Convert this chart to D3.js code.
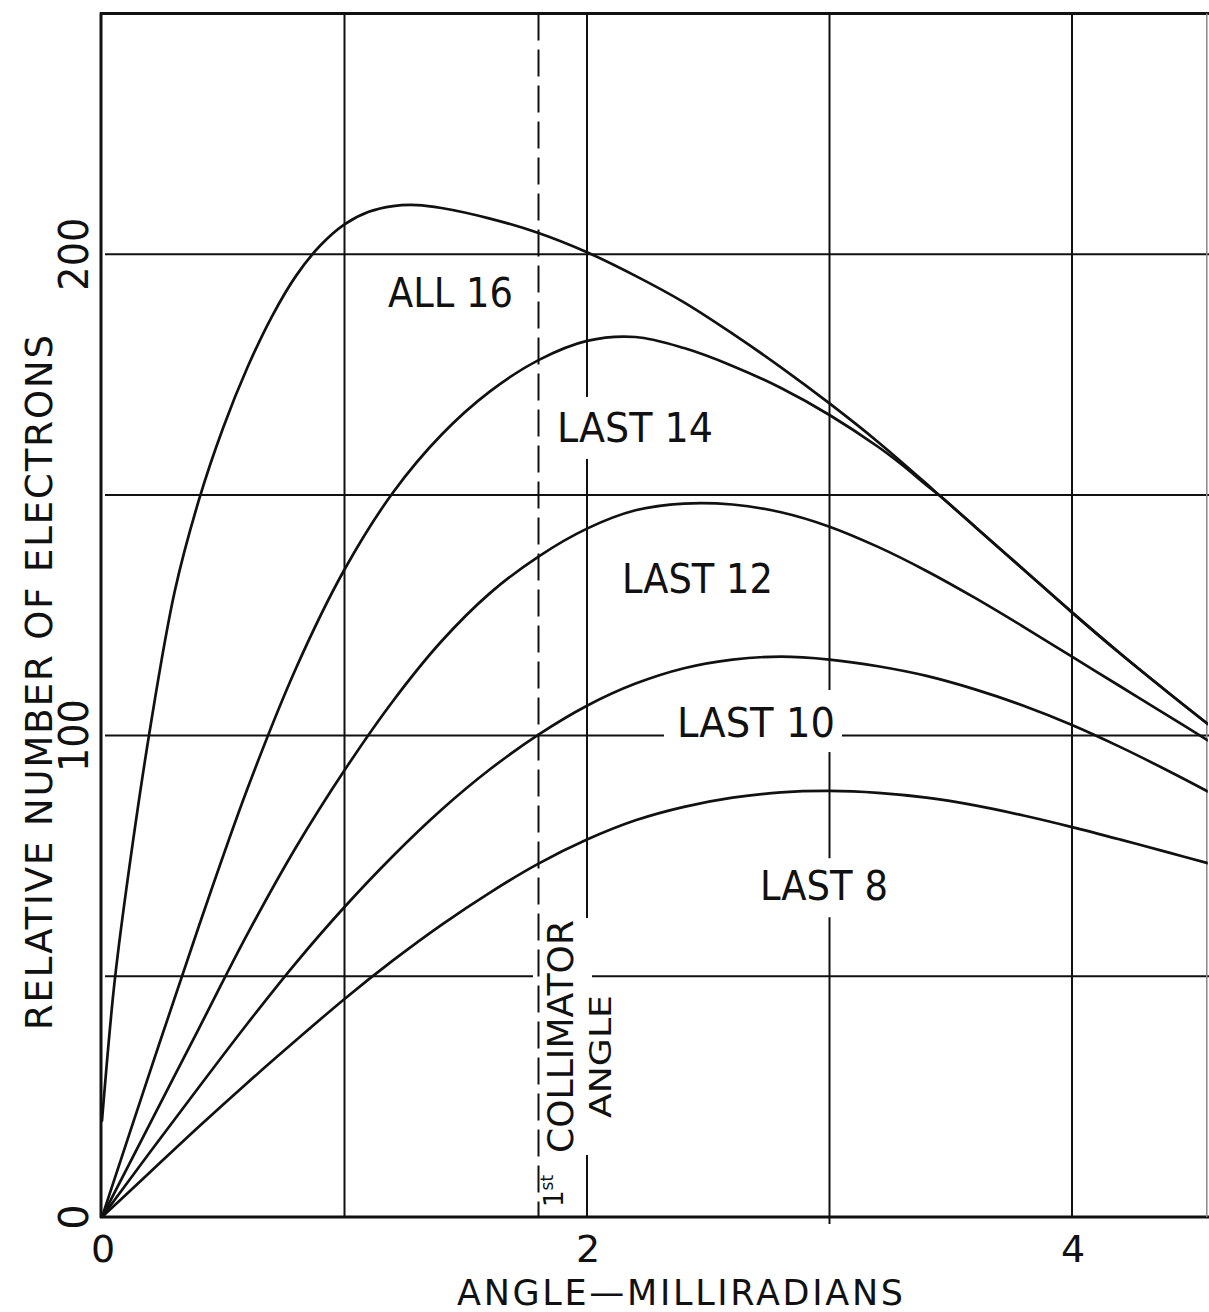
<!DOCTYPE html>
<html>
<head>
<meta charset="utf-8">
<script src="https://cdn.jsdelivr.net/npm/d3@7"></script>
<style>
  html, body { margin: 0; padding: 0; background: #fff; }
  svg { display: block; }
  text { font-family: "DejaVu Sans", "Liberation Sans", sans-serif; fill: #111; }
</style>
</head>
<body>
<svg id="chart" width="1209" height="1312"></svg>
<script>
// Relative number of electrons vs. scattering angle, for electrons
// produced in all 16 or only the last N accelerator sections.

const all16Angle = [0, 0.05, 0.1, 0.2, 0.3, 0.4, 0.5, 0.6, 0.7, 0.8, 0.9, 1.0, 1.1, 1.2, 1.3, 1.4, 1.6, 1.8, 2.0, 2.2, 2.4, 2.6, 2.8, 3.0, 3.2, 3.4, 3.46, 3.6, 3.8, 4.0, 4.2, 4.4, 4.56];
const all16Count = [20, 48, 68, 102, 130, 149, 164, 176.5, 187, 195.5, 201.8, 206.2, 208.8, 210, 210.2, 209.6, 207.4, 204.4, 200.4, 195.5, 190, 183.5, 176.5, 169, 161, 152.3, 149.6, 143.4, 134.5, 125.6, 117, 108.8, 102.4];

const last14Angle = [0, 0.2, 0.4, 0.6, 0.8, 1.0, 1.2, 1.4, 1.6, 1.8, 2.0, 2.2, 2.4, 2.6, 2.8, 3.0, 3.2, 3.3, 3.4, 3.46, 3.6, 3.8, 4.0, 4.2, 4.4, 4.56];
const last14Count = [0, 30.5, 60.5, 89, 114, 134.5, 150.5, 162.5, 171.5, 178, 182, 182.8, 180.5, 176.8, 172.2, 166.6, 160, 156.2, 152, 149.6, 143.4, 134.5, 125.6, 117, 108.8, 102.4];

const last12Angle = [0, 0.2, 0.4, 0.6, 0.8, 1.0, 1.2, 1.4, 1.6, 1.8, 2.0, 2.2, 2.4, 2.6, 2.8, 3.0, 3.2, 3.4, 3.6, 3.8, 4.0, 4.2, 4.4, 4.56];
const last12Count = [0, 19.6, 39.2, 58.8, 76.8, 92.8, 107.2, 119.6, 129.6, 137.2, 143, 146.8, 148.2, 148, 146.4, 143.4, 139.2, 134.2, 128.6, 122.6, 116.4, 110.2, 104, 99];

const last10Angle = [0, 0.2, 0.4, 0.6, 0.8, 1.0, 1.2, 1.4, 1.6, 1.8, 2.0, 2.2, 2.4, 2.6, 2.8, 3.0, 3.2, 3.4, 3.6, 3.8, 4.0, 4.2, 4.4, 4.56];
const last10Count = [0, 13.6, 27, 40.2, 52.8, 64.4, 75, 84.6, 93, 100.2, 106.2, 110.8, 114, 115.8, 116.4, 115.8, 114.4, 112.4, 109.6, 106.2, 102.2, 97.6, 92.6, 88.4];

const last8Angle = [0, 0.2, 0.4, 0.6, 0.8, 1.0, 1.2, 1.4, 1.6, 1.8, 2.0, 2.2, 2.4, 2.6, 2.8, 3.0, 3.2, 3.4, 3.6, 3.8, 4.0, 4.2, 4.4, 4.56];
const last8Count = [0, 9.4, 18.8, 27.9, 36.7, 45.3, 53.3, 60.7, 67.4, 73.4, 78.4, 82.4, 85.2, 87.1, 88.2, 88.5, 88.1, 87.1, 85.5, 83.4, 81.0, 78.4, 75.7, 73.5];

const seriesNames = ["ALL 16", "LAST 14", "LAST 12", "LAST 10", "LAST 8"];
const xTickValues = [0, 2, 4];
const xTickLabels = ["0", "2", "4"];
const yTickValues = [0, 100, 200];
const yTickLabels = ["0", "100", "200"];
const xGridValues = [1, 2, 3, 4];
const yGridValues = [50, 100, 150, 200];
const collimatorAngle = 1.8;
const xTitle = "ANGLE\u2014MILLIRADIANS";
const yTitle = "RELATIVE NUMBER OF ELECTRONS";

const series = [
  { name: seriesNames[0], angle: all16Angle, count: all16Count },
  { name: seriesNames[1], angle: last14Angle, count: last14Count },
  { name: seriesNames[2], angle: last12Angle, count: last12Count },
  { name: seriesNames[3], angle: last10Angle, count: last10Count },
  { name: seriesNames[4], angle: last8Angle, count: last8Count }
];

const W = 1209, H = 1312;
const x = d3.scaleLinear().domain([0, 4.56]).range([102, 1207.8]);
const y = d3.scaleLinear().domain([0, 250]).range([1217, 13.5]);

const svg = d3.select("#chart");
svg.append("rect").attr("width", W).attr("height", H).attr("fill", "#fff");

const ink = "#111";
const layerVGrid = svg.append("g");
const layerVHalo = svg.append("g");
const layerHGrid = svg.append("g");
const layerHalo = svg.append("g");
const layerMarks = svg.append("g");
const layerText = svg.append("g");

// vertical grid lines
layerVGrid.selectAll("line").data(xGridValues).join("line")
  .attr("x1", d => x(d)).attr("x2", d => x(d))
  .attr("y1", y(250)).attr("y2", y(0))
  .attr("stroke", ink).attr("stroke-width", 2);

// horizontal grid lines
layerHGrid.selectAll("line").data(yGridValues).join("line")
  .attr("x1", x(0) + 3).attr("x2", W)
  .attr("y1", d => y(d)).attr("y2", d => y(d))
  .attr("stroke", ink).attr("stroke-width", 2);

// first collimator angle (dashed)
layerMarks.append("line")
  .attr("x1", x(collimatorAngle)).attr("x2", x(collimatorAngle))
  .attr("y1", y(250)).attr("y2", y(0))
  .attr("stroke", ink).attr("stroke-width", 2)
  .attr("stroke-dasharray", "27 9");

// frame: left axis, bottom axis, top border, right edge
layerMarks.append("line").attr("x1", x(0) - 1).attr("x2", x(0) - 1)
  .attr("y1", y(250) - 1).attr("y2", y(0) + 1)
  .attr("stroke", ink).attr("stroke-width", 3);
layerMarks.append("line").attr("x1", x(0) - 2).attr("x2", W)
  .attr("y1", y(0)).attr("y2", y(0))
  .attr("stroke", ink).attr("stroke-width", 3);
layerMarks.append("line").attr("x1", x(0) - 2).attr("x2", W)
  .attr("y1", y(250)).attr("y2", y(250))
  .attr("stroke", ink).attr("stroke-width", 3);
layerMarks.append("line").attr("x1", x(4.56) - 1).attr("x2", x(4.56) - 1)
  .attr("y1", y(250)).attr("y2", y(0))
  .attr("stroke", "#888").attr("stroke-width", 1.5);
// small tick below the axis at 3 mrad
layerMarks.append("line").attr("x1", x(3)).attr("x2", x(3))
  .attr("y1", y(0)).attr("y2", y(0) + 7)
  .attr("stroke", ink).attr("stroke-width", 2);

// curves
const clip = svg.append("clipPath").attr("id", "plot-clip");
clip.append("rect").attr("x", x(0)).attr("y", y(250)).attr("width", x(4.56) - x(0)).attr("height", y(0) - y(250));

const line = d3.line()
  .x(d => x(d[0]))
  .y(d => y(d[1]))
  .curve(d3.curveCatmullRom.alpha(0.5));

layerMarks.append("g").attr("clip-path", "url(#plot-clip)")
  .selectAll("path").data(series).join("path")
  .attr("d", s => line(s.angle.map((a, i) => [a, s.count[i]])))
  .attr("fill", "none").attr("stroke", ink).attr("stroke-width", 2.7)
  .attr("stroke-linejoin", "round").attr("stroke-linecap", "round");

// text helper
function addText(parent, opts) {
  const t = parent.append("text")
    .attr("font-size", opts.size)
    .attr("text-anchor", opts.anchor || "start");
  if (opts.rotate) {
    t.attr("transform", `translate(${opts.px},${opts.py}) rotate(-90)`);
  } else {
    t.attr("x", opts.px).attr("y", opts.py);
  }
  t.text(opts.text);
  if (opts.length) {
    t.attr("textLength", opts.length).attr("lengthAdjust", opts.adjust || "spacingAndGlyphs");
  }
  return t;
}

// curve labels (anchored in data coordinates)
const curveLabels = [
  { text: seriesNames[0], ax: 1.179, ay: 189.0, length: 125, halo: null },
  { text: seriesNames[1], ax: 1.876, ay: 161.0, length: 156, halo: { l: 8, r: 8, t: 8, b: 8 } },
  { text: seriesNames[2], ax: 2.144, ay: 129.6, length: 151, halo: null },
  { text: seriesNames[3], ax: 2.371, ay: 99.7, length: 158, halo: { l: 13, r: 7, t: 10, b: 6 } },
  { text: seriesNames[4], ax: 2.713, ay: 65.8, length: 128, halo: { l: 8, r: 8, t: 5, b: 8 } }
];

const svgBox = svg.node().getBoundingClientRect();
function boxOf(node) {
  const b = node.getBoundingClientRect();
  return { x: b.left - svgBox.left, y: b.top - svgBox.top, w: b.width, h: b.height };
}
function addHalo(layer, node, pad) {
  const b = boxOf(node);
  layer.append("rect")
    .attr("x", b.x - pad.l).attr("y", b.y - pad.t)
    .attr("width", b.w + pad.l + pad.r).attr("height", b.h + pad.t + pad.b)
    .attr("fill", "#fff");
}

curveLabels.forEach(c => {
  const t = addText(layerText, { text: c.text, px: x(c.ax), py: y(c.ay), size: 40, length: c.length });
  if (c.halo) addHalo(layerHalo, t.node(), c.halo);
});

// collimator annotation (rotated)
const collText = addText(layerText, { text: "COLLIMATOR", px: 573, py: 1153, size: 36, rotate: true, length: 233 });
addHalo(layerHalo, collText.node(), { l: 7, r: 11, t: 2, b: 2 });
const firstText = layerText.append("text")
  .attr("transform", "translate(563,1207) rotate(-90)")
  .attr("font-size", 26);
firstText.append("tspan").text("1");
firstText.append("tspan").attr("font-size", 17).attr("dy", -10).text("st");
const angText = addText(layerText, { text: "ANGLE", px: 611, py: 1118, size: 30, rotate: true, length: 123 });
addHalo(layerVHalo, angText.node(), { l: 5, r: 2, t: 24, b: 14 });

// tick labels
xTickValues.forEach((v, i) => {
  addText(layerText, { text: xTickLabels[i], px: x(v) + 1, py: 1262, size: 38, anchor: "middle" });
});
yTickValues.forEach((v, i) => {
  addText(layerText, { text: yTickLabels[i], px: 88, py: y(v), size: 40, anchor: "middle", rotate: true,
    length: yTickLabels[i].length > 1 ? 73 : null });
});

// axis titles
addText(layerText, { text: xTitle, px: 457, py: 1305, size: 35, length: 446, adjust: "spacing" });
addText(layerText, { text: yTitle, px: 52, py: 1030, size: 37, rotate: true, length: 695, adjust: "spacing" });
</script>
</body>
</html>
